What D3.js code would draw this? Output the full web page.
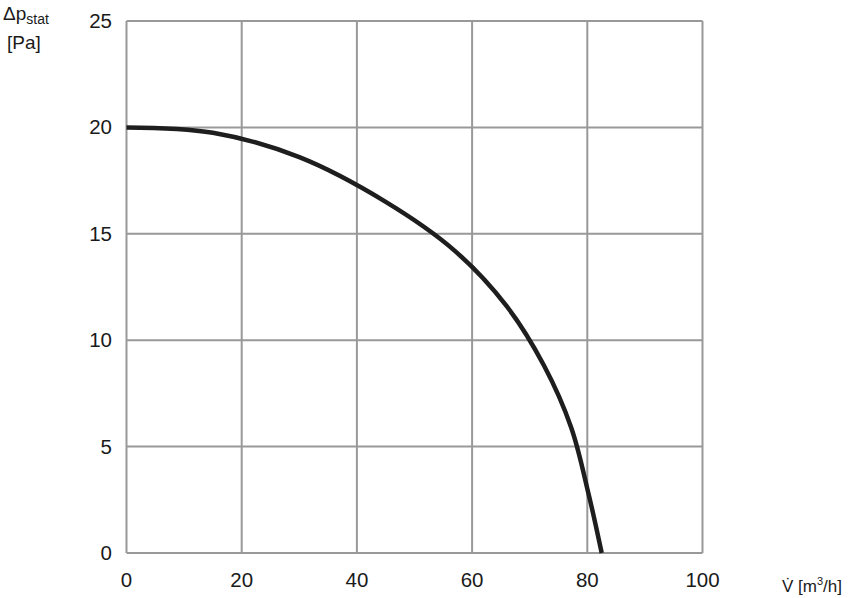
<!DOCTYPE html>
<html><head><meta charset="utf-8">
<script src="https://cdn.jsdelivr.net/npm/d3@7"></script>
<style>body{margin:0;background:#fff}svg{display:block}text{font-family:"Liberation Sans",Arial,sans-serif;fill:#1a1a1a}</style>
</head><body><svg id="c" width="850" height="598"></svg>
<script>
const flowValues = [0, 15, 30, 45, 57, 66, 72.5, 77.2, 80.2, 82.5];
const pressureValues = [20, 19.75, 18.6, 16.5, 14.2, 11.6, 8.8, 5.9, 2.8, 0];
const xTicks = [0, 20, 40, 60, 80, 100];
const yTicks = [0, 5, 10, 15, 20, 25];

const svg = d3.select("#c");
const x = d3.scaleLinear().domain([0, 100]).range([126.5, 702.5]);
const y = d3.scaleLinear().domain([0, 25]).range([553, 21]);

const grid = svg.append("g").attr("stroke", "#999").attr("stroke-width", 2);
xTicks.forEach(t => grid.append("line").attr("x1", x(t)).attr("x2", x(t)).attr("y1", y(25)).attr("y2", y(0)));
yTicks.forEach(t => grid.append("line").attr("x1", x(0)).attr("x2", x(100)).attr("y1", y(t)).attr("y2", y(t)));

svg.append("g").selectAll("text").data(yTicks).join("text")
  .attr("x", 112).attr("y", d => y(d) + 7).attr("text-anchor", "end").attr("font-size", 20.5).text(d => d);
svg.append("g").selectAll("text").data(xTicks).join("text")
  .attr("x", d => x(d)).attr("y", 587).attr("text-anchor", "middle").attr("font-size", 20.5).text(d => d);

const pts = flowValues.map((v, i) => [v, pressureValues[i]]);
svg.append("path").datum(pts)
  .attr("fill", "none").attr("stroke", "#1e1e1e").attr("stroke-width", 4.5)
  .attr("d", d3.line().x(d => x(d[0])).y(d => y(d[1])).curve(d3.curveCatmullRom.alpha(0.5)));

const yl = svg.append("text").attr("x", 3).attr("y", 20).attr("font-size", 19);
yl.append("tspan").text("Δp");
yl.append("tspan").attr("font-size", 14).attr("dy", 4).text("stat");
svg.append("text").attr("x", 7).attr("y", 49).attr("font-size", 19).text("[Pa]");

const xl = svg.append("text").attr("x", 782).attr("y", 592).attr("font-size", 17);
xl.append("tspan").text("V̇ [m");
xl.append("tspan").attr("font-size", 11).attr("dy", -7).text("3");
xl.append("tspan").attr("dy", 7).text("/h]");
</script></body></html>
